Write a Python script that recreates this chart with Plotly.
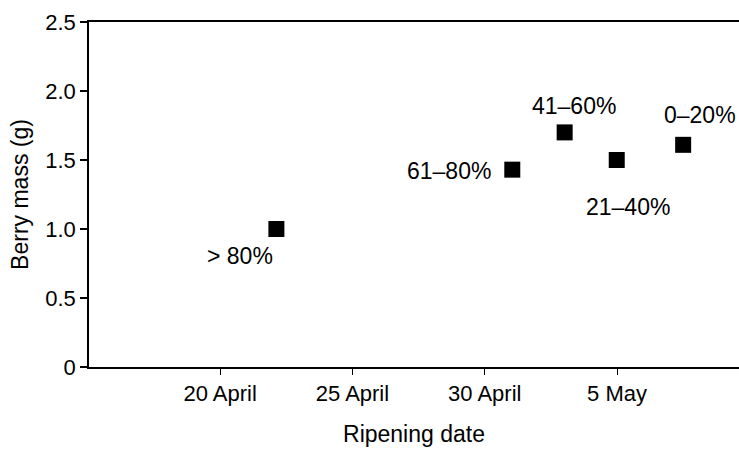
import plotly.graph_objects as go

# Data
ripening_dates = ["1990-04-22 03:00", "1990-05-01 01:00", "1990-05-03 00:30",
                  "1990-05-04 23:45", "1990-05-07 12:00"]
berry_mass = [1.00, 1.43, 1.70, 1.50, 1.61]
class_labels = ["> 80%", "61\u201380%", "41\u201360%", "21\u201340%", "0\u201320%"]

x_tick_vals = ["1990-04-20", "1990-04-25", "1990-04-30", "1990-05-05"]
x_tick_text = ["20 April", "25 April", "30 April", "5 May"]
y_tick_vals = [0, 0.5, 1.0, 1.5, 2.0, 2.5]
y_tick_text = ["0", "0.5", "1.0", "1.5", "2.0", "2.5"]

# label placement (styling only): x shift, y shift, anchor
label_style = [(-36, -27, "center"), (-19, -1, "right"), (9, 26, "center"),
               (11, -47, "center"), (17, 30, "center")]

FONT = "Liberation Sans, Arial, Helvetica, sans-serif"

fig = go.Figure()
fig.add_trace(go.Scatter(
    x=ripening_dates, y=berry_mass, mode="markers",
    marker=dict(symbol="square", size=16, color="black"),
    showlegend=False, hoverinfo="x+y",
))

for d, m, lab, (dx, dy, anc) in zip(ripening_dates, berry_mass, class_labels, label_style):
    fig.add_annotation(x=d, y=m, xref="x", yref="y", text=lab, showarrow=False,
                       xshift=dx, yshift=dy, xanchor=anc, yanchor="middle",
                       font=dict(family=FONT, size=23, color="black"))

fig.update_layout(
    width=739, height=451,
    margin=dict(l=89, r=0, t=22, b=84),
    plot_bgcolor="white", paper_bgcolor="white",
    font=dict(family=FONT, size=22, color="black"),
)
fig.update_xaxes(
    type="date", range=["1990-04-15 01:00", "1990-05-09 14:40"],
    tickmode="array", tickvals=x_tick_vals, ticktext=x_tick_text,
    showline=True, linecolor="black", linewidth=1.5, mirror=True,
    ticks="outside", ticklen=6, tickcolor="black", tickwidth=1,
    showgrid=False, zeroline=False,
    title=dict(text="Ripening date", font=dict(size=23), standoff=21),
    tickfont=dict(size=22),
)
fig.update_yaxes(
    range=[0, 2.5],
    tickmode="array", tickvals=y_tick_vals, ticktext=y_tick_text,
    showline=True, linecolor="black", linewidth=1.5, mirror=False,
    ticks="outside", ticklen=7, tickcolor="black", tickwidth=2,
    showgrid=False, zeroline=False,
    title=dict(text="Berry mass (g)", font=dict(size=23), standoff=10),
    tickfont=dict(size=22),
)

fig.write_html(
    "out.html",
    config={"displayModeBar": False},
    post_script="document.body.style.margin='0';document.body.style.overflow='hidden';",
)
